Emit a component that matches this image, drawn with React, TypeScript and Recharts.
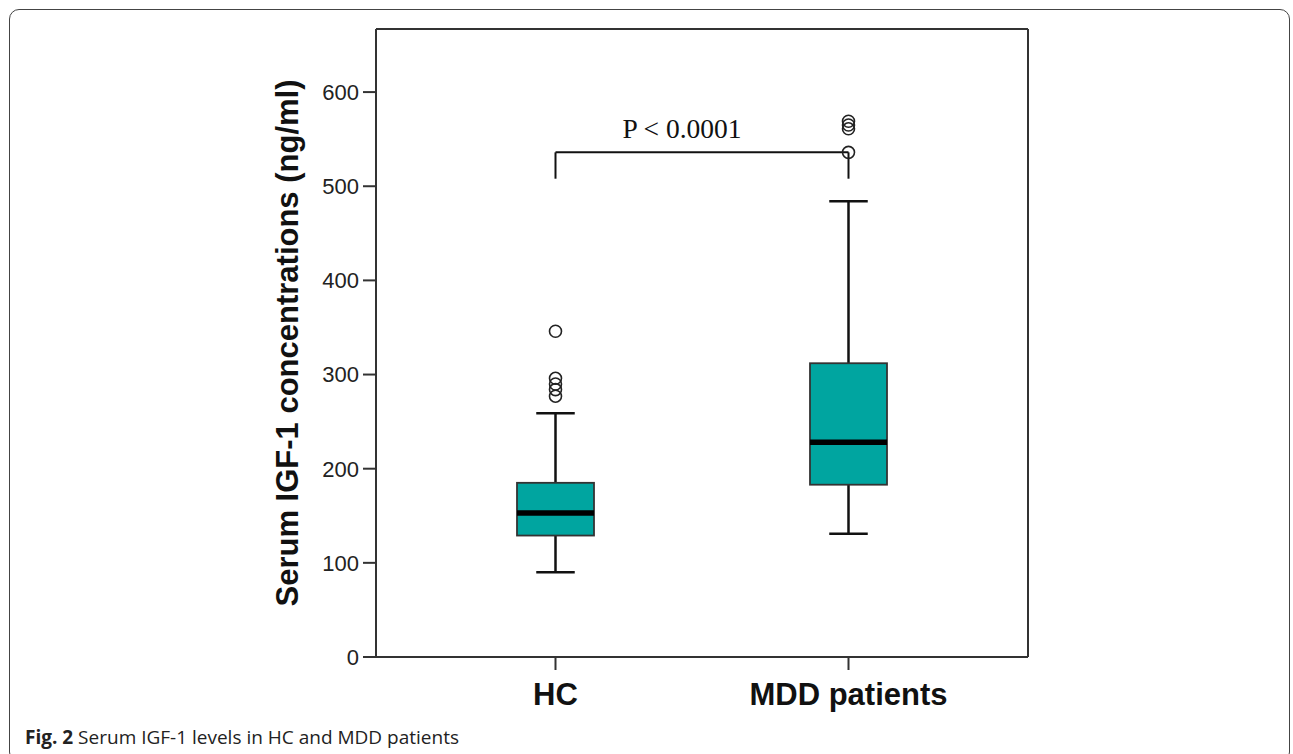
import React from "react";
import { ComposedChart, Bar, Scatter, XAxis, YAxis, ReferenceLine, CartesianGrid } from "recharts";

// box plot summary (ng/ml)
const groups = ["HC", "MDD patients"];
const whiskerLow = [90, 131];
const quartile1 = [129, 183];
const medians = [153, 228];
const quartile3 = [185, 312];
const whiskerHigh = [259, 484];
const hcOutliers = [346, 296, 290, 284, 277];
const mddOutliers = [569, 565, 561, 536];

const yTicks = [0, 100, 200, 300, 400, 500, 600];
const yMax = 667;
const bracketLevels = [508, 536];
const pLabel = "P < 0.0001";
const yLabel = "Serum IGF-1 concentrations (ng/ml)";

const boxRows = groups.map((name, i) => ({
  name,
  range: [whiskerLow[i], whiskerHigh[i]],
  low: whiskerLow[i],
  q1: quartile1[i],
  median: medians[i],
  q3: quartile3[i],
  high: whiskerHigh[i],
}));

const outlierRows = [
  ...hcOutliers.map((value) => ({ name: groups[0], value })),
  ...mddOutliers.map((value) => ({ name: groups[1], value })),
];

const SANS = '"Liberation Sans", Arial, sans-serif';
const INK = "#222";
const FRAME = "#333";

function BoxShape(props: any) {
  const { x, y, width, height, payload } = props;
  if (!payload || height == null) return null;
  const { low, q1, median, q3, high } = payload;
  // linear position inside the whisker range bar
  const py = (v: number) => y + (height * (high - v)) / (high - low);
  const cx = x + width / 2;
  const cap = width / 4;
  return (
    <g>
      <line x1={cx} x2={cx} y1={py(high)} y2={py(q3)} stroke="#111" strokeWidth={2.5} />
      <line x1={cx} x2={cx} y1={py(q1)} y2={py(low)} stroke="#111" strokeWidth={2.5} />
      <line x1={cx - cap} x2={cx + cap} y1={py(high)} y2={py(high)} stroke="#111" strokeWidth={2.5} />
      <line x1={cx - cap} x2={cx + cap} y1={py(low)} y2={py(low)} stroke="#111" strokeWidth={2.5} />
      <rect
        x={x}
        y={py(q3)}
        width={width}
        height={py(q1) - py(q3)}
        fill="#00a5a0"
        stroke="#333"
        strokeWidth={1.8}
      />
      <line x1={x} x2={x + width} y1={py(median)} y2={py(median)} stroke="#000" strokeWidth={5.5} />
    </g>
  );
}

function OutlierDot(props: any) {
  const { cx, cy } = props;
  if (cx == null || cy == null) return null;
  return <circle cx={cx} cy={cy} r={6} fill="none" stroke="#222" strokeWidth={1.6} />;
}

function PLabel(props: any) {
  const vb = props.viewBox || {};
  const x = (vb.x ?? 0) + (vb.width ?? 0) / 2 - 20;
  const y = (vb.y ?? 0) - 14;
  return (
    <text x={x} y={y} textAnchor="middle" fontSize={27.5} fill="#111" fontFamily='"Liberation Serif", "Times New Roman", serif'>
      {pLabel}
    </text>
  );
}

export default function App() {
  return (
    <div
      style={{
        position: "absolute",
        left: 0,
        top: 0,
        width: 1293,
        height: 754,
        overflow: "hidden",
        background: "#fff",
      }}
    >
      <div
        style={{
          position: "absolute",
          left: 9,
          top: 9,
          width: 1281,
          height: 753,
          border: "1.5px solid #444",
          borderRadius: 10,
          boxSizing: "border-box",
        }}
      />
      <div style={{ position: "absolute", left: 0, top: 0 }}>
        <ComposedChart
          width={1293}
          height={754}
          data={boxRows}
          margin={{ top: 29, right: 265, bottom: 7, left: 276 }}
        >
          {/* top and right edges of the plot frame */}
          <CartesianGrid
            stroke={FRAME}
            strokeWidth={2}
            horizontalCoordinatesGenerator={({ offset }: any) => [offset.top]}
            verticalCoordinatesGenerator={({ offset }: any) => [offset.left + offset.width]}
          />
          <XAxis
            dataKey="name"
            type="category"
            allowDuplicatedCategory={false}
            padding={{ left: 33, right: 33 }}
            height={90}
            tickSize={13}
            tickMargin={13}
            axisLine={{ stroke: FRAME, strokeWidth: 2 }}
            tickLine={{ stroke: FRAME, strokeWidth: 2 }}
            tick={{ fontSize: 31, fontWeight: 700, fill: "#111", fontFamily: SANS }}
          />
          <YAxis
            type="number"
            domain={[0, yMax]}
            ticks={yTicks}
            width={100}
            tickSize={13}
            tickMargin={4}
            axisLine={{ stroke: FRAME, strokeWidth: 2 }}
            tickLine={{ stroke: FRAME, strokeWidth: 2 }}
            tick={{ fontSize: 22, fill: INK, fontFamily: SANS }}
            label={{
              value: yLabel,
              angle: -90,
              position: "insideLeft",
              offset: 11,
              fontSize: 31,
              fontWeight: 700,
              fill: "#111",
              fontFamily: SANS,
              style: { textAnchor: "middle" },
            }}
          />
          <Bar dataKey="range" barSize={77} shape={BoxShape} isAnimationActive={false} />
          <Scatter data={outlierRows} dataKey="value" shape={OutlierDot} isAnimationActive={false} />
          <ReferenceLine
            segment={[
              { x: groups[0], y: bracketLevels[0] },
              { x: groups[0], y: bracketLevels[1] },
            ]}
            stroke="#111"
            strokeWidth={2}
          />
          <ReferenceLine
            segment={[
              { x: groups[0], y: bracketLevels[1] },
              { x: groups[1], y: bracketLevels[1] },
            ]}
            stroke="#111"
            strokeWidth={2}
            label={<PLabel />}
          />
          <ReferenceLine
            segment={[
              { x: groups[1], y: bracketLevels[1] },
              { x: groups[1], y: bracketLevels[0] },
            ]}
            stroke="#111"
            strokeWidth={2}
          />
        </ComposedChart>
      </div>
      <div
        style={{
          position: "absolute",
          left: 25,
          top: 728,
          fontSize: 19,
          lineHeight: "19px",
          fontFamily: '"Open Sans", sans-serif',
          color: INK,
          whiteSpace: "nowrap",
        }}
      >
        <b>Fig. 2</b> Serum IGF-1 levels in HC and MDD patients
      </div>
    </div>
  );
}
